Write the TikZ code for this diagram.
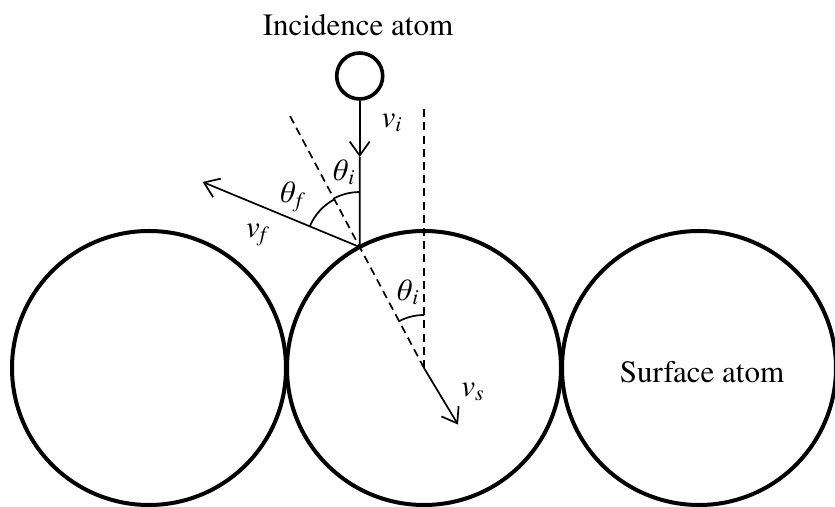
\documentclass[tikz,border=0pt]{standalone}
\usepackage{fontspec}
\setmainfont{TeX Gyre Termes}
\usetikzlibrary{arrows.meta, calc}
\newcommand{\sym}[2]{\textit{#1}\textsubscript{\textit{#2}}}

\begin{document}
\begin{tikzpicture}[x=0.5pt, y=0.5pt,
        atom/.style={circle, draw, line width=2pt, inner sep=0pt, minimum size=137pt},
        probe/.style={circle, draw, line width=1.8pt, inner sep=0pt, minimum size=23pt},
        vec/.style={line width=0.85pt, -{Straight Barb[length=7pt, width=10pt]}},
        ray/.style={line width=0.85pt},
        guide/.style={line width=0.85pt, dash pattern=on 4pt off 2.6pt},
        lab/.style={font=\fontsize{15.5}{18}\selectfont, inner sep=0pt}]

        \useasboundingbox (0,0) rectangle (835,507);

        % Surface atoms
        \node[atom] (left) at (149,139) {};
        \node[atom] (mid) at (424,139) {};
        \node[atom] (right) at (699,139) {};
        \node[lab] (surflab) at (702,135) {Surface atom};

        % Impact point on the middle atom
        \coordinate (hit) at ($(mid.center)+(118:137)$);

        % Incidence atom
        \node[probe] (inc) at (359.7,431) {};
        \node[lab] (inclab) at (358,482) {Incidence atom};

        % Guide lines
        \coordinate (ntop) at ($(mid.center)+(118:286)$);
        \coordinate (vtop) at (424,402);
        \draw[guide] (mid.center) -- (ntop);
        \draw[guide] (mid.center) -- (vtop);

        % Incoming velocity
        \coordinate (vitip) at (359.7,350);
        \draw[vec] (inc.south) -- (vitip);
        \draw[ray] (vitip) -- (hit);
        \node[lab] (vilab) at (392,384) {\sym{v}{i}};

        % Outgoing velocity
        \coordinate (vftip) at ($(hit)+(157.5:170)$);
        \draw[vec] (hit) -- (vftip);
        \node[lab] (vflab) at (258,272) {\sym{v}{f}};

        % Recoil of the surface atom
        \coordinate (vstip) at ($(mid.center)+(-59:66)$);
        \draw[vec] (mid.center) -- (vstip);
        \node[lab] (vslab) at (473,115) {\sym{v}{s}};

        % Angles
        \draw[ray] ($(hit)+(90:55)$) arc[start angle=90, end angle=118, radius=55];
        \draw[ray] ($(hit)+(118:54)$) arc[start angle=118, end angle=157.5, radius=54];
        \draw[ray] ($(mid.center)+(90:53)$) arc[start angle=90, end angle=118, radius=53];
        \node[lab] (tilab) at (343,335) {\sym{θ}{i}};
        \node[lab] (tflab) at (292,310) {\sym{θ}{f}};
        \node[lab] (tslab) at (407,215) {\sym{θ}{i}};

\end{tikzpicture}
\end{document}
